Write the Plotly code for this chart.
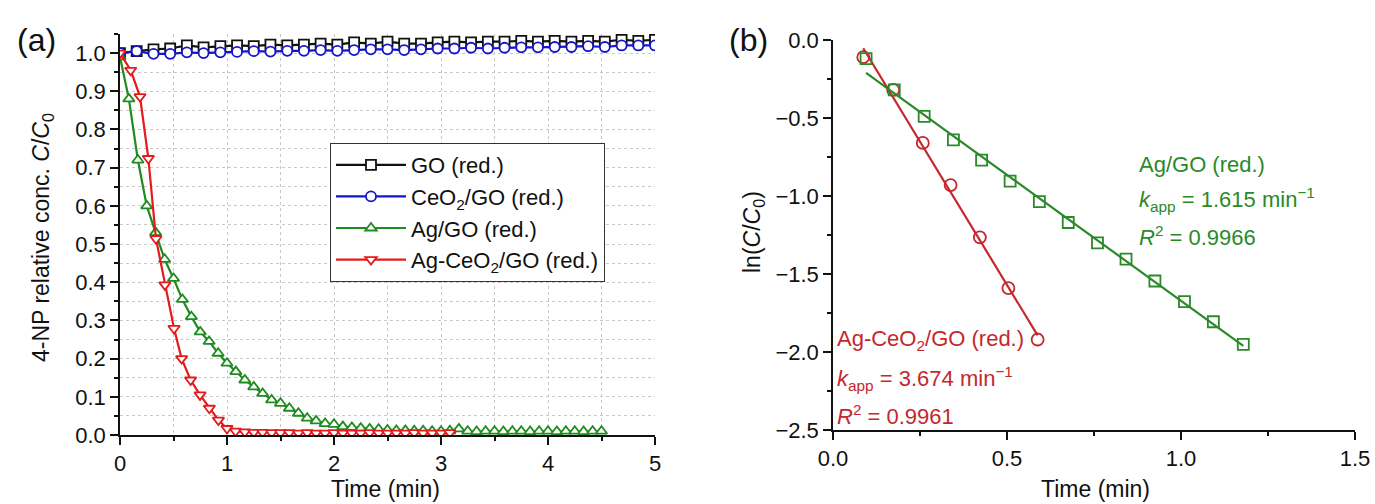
import plotly.graph_objects as go

# ---------------- Panel (a) data ----------------
t_go = [0.0, 0.156, 0.313, 0.469, 0.625, 0.781, 0.938, 1.094, 1.25, 1.406, 1.563, 1.719,
        1.875, 2.031, 2.188, 2.344, 2.5, 2.656, 2.813, 2.969, 3.125, 3.281, 3.438, 3.594,
        3.75, 3.906, 4.063, 4.219, 4.375, 4.531, 4.688, 4.844, 5.0]
go_vals = [1.00, 1.005, 1.01, 1.012, 1.02, 1.015, 1.018, 1.02, 1.018, 1.022, 1.02, 1.022,
           1.025, 1.022, 1.028, 1.025, 1.03, 1.025, 1.025, 1.028, 1.03, 1.028, 1.03, 1.03,
           1.032, 1.03, 1.032, 1.03, 1.032, 1.03, 1.035, 1.032, 1.035]
ceo2_vals = [1.00, 1.005, 0.998, 0.998, 1.002, 1.0, 1.002, 1.003, 1.005, 1.004, 1.006, 1.006,
             1.008, 1.006, 1.008, 1.01, 1.01, 1.008, 1.01, 1.012, 1.012, 1.014, 1.012, 1.014,
             1.015, 1.015, 1.016, 1.016, 1.018, 1.016, 1.02, 1.02, 1.02]

t_ag = [0, 0.083, 0.167, 0.25, 0.333, 0.417, 0.5, 0.583, 0.667, 0.75, 0.833, 0.917, 1.0,
        1.083, 1.167, 1.25, 1.333, 1.417, 1.5, 1.583, 1.667, 1.75, 1.833, 1.917, 2.0, 2.083,
        2.167, 2.25, 2.333, 2.417, 2.5, 2.583, 2.667, 2.75, 2.833, 2.917, 3.0, 3.083, 3.167,
        3.25, 3.333, 3.417, 3.5, 3.583, 3.667, 3.75, 3.833, 3.917, 4.0, 4.083, 4.167, 4.25,
        4.333, 4.417, 4.5]
ag_vals = [0.99, 0.88, 0.72, 0.60, 0.53, 0.46, 0.41, 0.355, 0.31, 0.27, 0.245, 0.214, 0.188,
           0.166, 0.144, 0.126, 0.109, 0.092, 0.083, 0.07, 0.057, 0.044, 0.037, 0.03, 0.028,
           0.022, 0.02, 0.018, 0.016, 0.015, 0.013, 0.012, 0.012, 0.011, 0.011, 0.01, 0.01,
           0.011, 0.016, 0.01, 0.009, 0.01, 0.01, 0.009, 0.01, 0.01, 0.009, 0.01, 0.01, 0.009,
           0.01, 0.01, 0.009, 0.01, 0.01]

t_agce = [0.0, 0.1, 0.187, 0.265, 0.336, 0.42, 0.505, 0.576, 0.66, 0.748, 0.835, 0.92, 1.0,
          1.08, 1.167, 1.25, 1.333, 1.417, 1.5, 1.583, 1.667, 1.75, 1.833, 1.917, 2.0, 2.083,
          2.167, 2.25, 2.333, 2.417, 2.5, 2.583, 2.667, 2.75, 2.833, 2.917, 3.0, 3.083]
agce_vals = [1.0, 0.955, 0.886, 0.724, 0.514, 0.393, 0.279, 0.2, 0.144, 0.105, 0.07, 0.039,
             0.017, 0.01, 0.008, 0.007, 0.007, 0.006, 0.006, 0.006, 0.005, 0.006, 0.005, 0.005,
             0.006, 0.005, 0.005, 0.005, 0.006, 0.005, 0.005, 0.005, 0.005, 0.006, 0.005, 0.005,
             0.005, 0.006]

# ---------------- Panel (b) data ----------------
tb_agce = [0.087, 0.173, 0.258, 0.338, 0.422, 0.504, 0.588]
ln_agce = [-0.11, -0.32, -0.66, -0.93, -1.265, -1.59, -1.92]
tb_ag = [0.095, 0.176, 0.262, 0.346, 0.427, 0.509, 0.593, 0.676, 0.76, 0.842, 0.925, 1.01,
         1.093, 1.179]
ln_ag = [-0.12, -0.32, -0.49, -0.64, -0.77, -0.905, -1.036, -1.17, -1.30, -1.405, -1.545,
         -1.677, -1.806, -1.951]
k_app = {"agce": 3.674, "ag": 1.615}
intercept = {"agce": 0.267, "ag": -0.057}
r2 = {"agce": 0.9961, "ag": 0.9966}

FONT = "Arial, Liberation Sans, sans-serif"
BLACK = "#111111"
BLUE = "#1414c8"
GREEN_A = "#1e8c1e"
RED_A = "#e41a1c"
RED_B = "#c4282c"
GREEN_B = "#2a8a2a"

fig = go.Figure()

def add_a(x, y, name, color, symbol):
    fig.add_trace(go.Scatter(
        x=x, y=y, name=name, mode="lines+markers",
        line=dict(color=color, width=2.2),
        marker=dict(symbol=symbol, size=10, color="white", line=dict(color=color, width=1.8)),
        xaxis="x", yaxis="y"))

add_a(t_go, go_vals, "GO (red.)", BLACK, "square")
add_a(t_go, ceo2_vals, "CeO<sub>2</sub>/GO (red.)", BLUE, "circle")
add_a(t_ag, ag_vals, "Ag/GO (red.)", GREEN_A, "triangle-up")
add_a(t_agce, agce_vals, "Ag-CeO<sub>2</sub>/GO (red.)", RED_A, "triangle-down")

# Panel (b) fitted lines
for key, tt, color in [("agce", tb_agce, RED_B), ("ag", tb_ag, GREEN_B)]:
    xs = [tt[0], tt[-1]]
    ys = [intercept[key] - k_app[key] * v for v in xs]
    fig.add_trace(go.Scatter(x=xs, y=ys, mode="lines", line=dict(color=color, width=2.2),
                             showlegend=False, xaxis="x2", yaxis="y2"))

fig.add_trace(go.Scatter(x=tb_agce, y=ln_agce, mode="markers", showlegend=False,
                         marker=dict(symbol="circle-open", size=12, color=RED_B,
                                     line=dict(width=1.8)),
                         xaxis="x2", yaxis="y2"))
fig.add_trace(go.Scatter(x=tb_ag, y=ln_ag, mode="markers", showlegend=False,
                         marker=dict(symbol="square-open", size=11, color=GREEN_B,
                                     line=dict(width=1.8)),
                         xaxis="x2", yaxis="y2"))

W, H = 1375, 504
def px(x):
    return x / W
def py(y):
    return 1 - y / H

tickfont = dict(family=FONT, size=22, color="#111")
common = dict(showline=True, linecolor="#111", linewidth=1.5, mirror=False, ticks="outside",
              ticklen=8, tickwidth=1.5, tickcolor="#111", tickfont=tickfont, zeroline=False,
              automargin=False)

fig.update_layout(
    width=W, height=H, margin=dict(l=0, r=0, t=0, b=0),
    paper_bgcolor="white", plot_bgcolor="white",
    font=dict(family=FONT, color="#111"),
    xaxis=dict(domain=[px(120), px(655)], range=[0, 5], dtick=1, tick0=0,
               showgrid=True, gridcolor="#c8c8c8", griddash="dot", gridwidth=1,
               minor=dict(dtick=0.5, ticks="outside", ticklen=4, tickcolor="#111",
                          showgrid=True, gridcolor="#c8c8c8", griddash="dot"),
               anchor="y", **common),
    yaxis=dict(domain=[py(435), py(34)], range=[0, 1.05], dtick=0.1, tick0=0,
               tickformat=".1f",
               showgrid=True, gridcolor="#c8c8c8", griddash="dot", gridwidth=1,
               minor=dict(dtick=0.05, ticks="outside", ticklen=4, tickcolor="#111",
                          showgrid=True, gridcolor="#c8c8c8", griddash="dot"),
               anchor="x", **common),
    xaxis2=dict(domain=[px(833), px(1355)], range=[0, 1.5], dtick=0.5, tick0=0,
                tickformat=".1f", showgrid=False,
                minor=dict(dtick=0.25, ticks="outside", ticklen=4, tickcolor="#111"),
                anchor="y2", **common),
    yaxis2=dict(domain=[py(430), py(40)], range=[-2.5, 0.0], dtick=0.5, tick0=0,
                tickformat=".1f", showgrid=False,
                minor=dict(dtick=0.25, ticks="outside", ticklen=4, tickcolor="#111"),
                anchor="x2", **common),
    legend=dict(x=px(330), y=py(143), xanchor="left", yanchor="top",
                bgcolor="white", bordercolor="#333", borderwidth=1,
                font=dict(family=FONT, size=22, color="#111"),
                tracegroupgap=2, itemwidth=70),
    showlegend=True,
)

ann = []
def text(x, y, s, size=22, color="#111", angle=0, xanchor="center"):
    ann.append(dict(x=px(x), y=py(y), xref="paper", yref="paper", text=s, showarrow=False,
                    font=dict(family=FONT, size=size, color=color), textangle=angle,
                    xanchor=xanchor, yanchor="middle"))

text(36, 40, "(a)", size=32)
text(748, 40, "(b)", size=32)
text(385, 489, "Time (min)", size=23)
text(1095, 489, "Time (min)", size=23)
text(42, 238, "4-NP relative conc. <i>C</i>/<i>C</i><sub>0</sub>", size=23, angle=-90)
text(754, 232, "ln(<i>C</i>/<i>C</i><sub>0</sub>)", size=23, angle=-90)

text(1137, 165, "Ag/GO (red.)", size=22, color=GREEN_B, xanchor="left")
text(1137, 200, "<i>k</i><sub>app</sub> = %.3f min<sup>−1</sup>" % k_app["ag"], size=22,
     color=GREEN_B, xanchor="left")
text(1137, 236, "<i>R</i><sup>2</sup> = %.4f" % r2["ag"], size=22, color=GREEN_B,
     xanchor="left")
text(835, 340, "Ag-CeO<sub>2</sub>/GO (red.)", size=22, color=RED_B, xanchor="left")
text(835, 378, "<i>k</i><sub>app</sub> = %.3f min<sup>−1</sup>" % k_app["agce"], size=22,
     color=RED_B, xanchor="left")
text(835, 415, "<i>R</i><sup>2</sup> = %.4f" % r2["agce"], size=22, color=RED_B,
     xanchor="left")
fig.update_layout(annotations=ann)

fig.write_html("out.html", config={"displayModeBar": False},
               post_script="document.body.style.margin='0px';")
